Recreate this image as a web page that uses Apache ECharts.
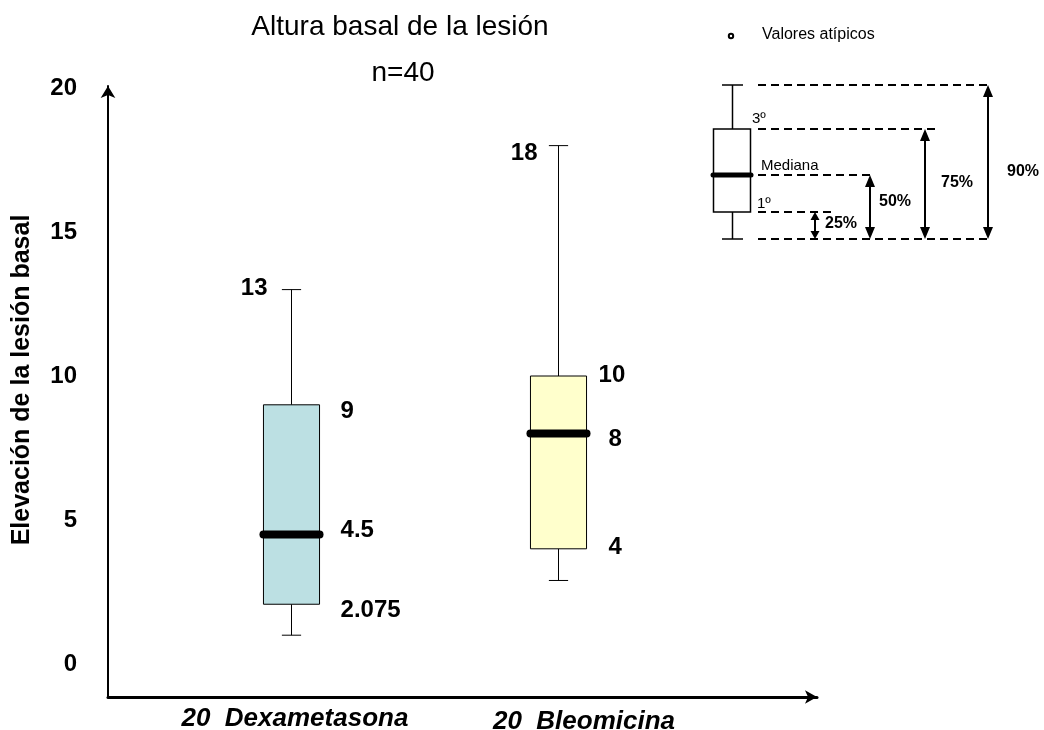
<!DOCTYPE html>
<html>
<head>
<meta charset="utf-8">
<title>Altura basal de la lesión</title>
<script src="https://cdn.jsdelivr.net/npm/echarts@6/dist/echarts.min.js"></script>
<style>
  html, body { margin: 0; padding: 0; background: #ffffff; }
  #chart { width: 1044px; height: 730px; }
</style>
</head>
<body>
<div id="chart"></div>
<script>
// Treatment groups and their five-number summaries
const categories = ['20  Dexametasona', '20  Bleomicina'];
const whiskerLow = [1, 2.9];
const q1 = [2.075, 4];
const medians = [4.5, 8];
const q3 = [9, 10];
const whiskerHigh = [13, 18];
const yTicks = [0, 5, 10, 15, 20];
const boxColors = ['#BCE0E3', '#FFFFCC'];

// Box geometry in x-axis units
const BOX_WIDTH = 0.21;
const CAP_WIDTH = 0.072;

// Label nudges [dx, dy] in px for the high, q3, median and q1 labels of each box
const labelNudge = [
  [[-24, -1], [21, 7], [21, -4], [21, 6]],
  [[-21, 8], [12, -1], [22, 6], [22, -1]]
];

const FONT = '"Liberation Sans", Arial, Helvetica, sans-serif';

const boxData = categories.map((c, i) => [i + 1, whiskerLow[i], q1[i], medians[i], q3[i], whiskerHigh[i]]);

function renderBox(params, api) {
  const i = params.dataIndex;
  const xv = api.value(0);
  const pLow = api.coord([xv, api.value(1)]);
  const pQ1 = api.coord([xv, api.value(2)]);
  const pMed = api.coord([xv, api.value(3)]);
  const pQ3 = api.coord([xv, api.value(4)]);
  const pHigh = api.coord([xv, api.value(5)]);
  const boxW = api.size([BOX_WIDTH, 0])[0];
  const capW = api.size([CAP_WIDTH, 0])[0];
  const cx = Math.round(pMed[0]) + 0.5;
  const left = cx - boxW / 2;
  const right = cx + boxW / 2;
  const thin = { stroke: '#000', lineWidth: 1 };
  const nudge = labelNudge[i];
  const txt = (str, x, y, align) => ({
    type: 'text',
    x: x, y: y,
    style: {
      text: str, fill: '#000', font: 'bold 24px ' + FONT,
      align: align, verticalAlign: 'middle'
    }
  });
  return {
    type: 'group',
    children: [
      { type: 'line', shape: { x1: cx, y1: pHigh[1], x2: cx, y2: pQ3[1] }, style: thin },
      { type: 'line', shape: { x1: cx, y1: pQ1[1], x2: cx, y2: pLow[1] }, style: thin },
      { type: 'line', shape: { x1: cx - capW / 2, y1: pHigh[1], x2: cx + capW / 2, y2: pHigh[1] }, style: thin },
      { type: 'line', shape: { x1: cx - capW / 2, y1: pLow[1], x2: cx + capW / 2, y2: pLow[1] }, style: thin },
      { type: 'rect', shape: { x: left, y: pQ3[1], width: boxW, height: pQ1[1] - pQ3[1] },
        style: { fill: boxColors[i], stroke: '#000', lineWidth: 1 } },
      { type: 'line', shape: { x1: left, y1: pMed[1], x2: right, y2: pMed[1] },
        style: { stroke: '#000', lineWidth: 8, lineCap: 'round' } },
      txt(String(api.value(5)), cx + nudge[0][0], pHigh[1] + nudge[0][1], 'right'),
      txt(String(api.value(4)), right + nudge[1][0], pQ3[1] + nudge[1][1], 'left'),
      txt(String(api.value(3)), right + nudge[2][0], pMed[1] + nudge[2][1], 'left'),
      txt(String(api.value(2)), right + nudge[3][0], pQ1[1] + nudge[3][1], 'left')
    ]
  };
}

// Key: a sample box with its quartile guides
function arrowHead(x, y, dir, w, h) {
  return { type: 'polygon', shape: { points: [[x, y], [x - w / 2, y + dir * h], [x + w / 2, y + dir * h]] },
           style: { fill: '#000' } };
}
function doubleArrow(x, yTop, yBottom, w, h) {
  return [
    { type: 'line', shape: { x1: x, y1: yTop + h - 1, x2: x, y2: yBottom - h + 1 }, style: { stroke: '#000', lineWidth: 2 } },
    arrowHead(x, yTop, 1, w, h),
    arrowHead(x, yBottom, -1, w, h)
  ];
}
function dashed(x1, x2, y) {
  return { type: 'line', shape: { x1: x1, y1: y, x2: x2, y2: y },
           style: { stroke: '#000', lineWidth: 2, lineDash: [8, 5] } };
}
function keyText(str, x, y, bold, size) {
  return { type: 'text', x: x, y: y,
           style: { text: str, fill: '#000', font: (bold ? 'bold ' : '') + size + 'px ' + FONT,
                    align: 'left', verticalAlign: 'middle' } };
}
const keyY = { top: 85, q3: 129, med: 175, q1: 212, bottom: 239 };
const keyElements = [
  { type: 'circle', shape: { cx: 731, cy: 36, r: 2.2 }, style: { fill: '#fff', stroke: '#000', lineWidth: 2 } },
  keyText('Valores atípicos', 762, 35, false, 16),
  { type: 'line', shape: { x1: 732.5, y1: keyY.top, x2: 732.5, y2: keyY.bottom }, style: { stroke: '#000', lineWidth: 1.5 } },
  { type: 'line', shape: { x1: 722, y1: keyY.top, x2: 743, y2: keyY.top }, style: { stroke: '#000', lineWidth: 1.5 } },
  { type: 'line', shape: { x1: 722, y1: keyY.bottom, x2: 743, y2: keyY.bottom }, style: { stroke: '#000', lineWidth: 1.5 } },
  { type: 'rect', shape: { x: 713.5, y: keyY.q3, width: 37, height: keyY.q1 - keyY.q3 }, style: { fill: '#fff', stroke: '#000', lineWidth: 1.5 } },
  { type: 'line', shape: { x1: 713, y1: keyY.med, x2: 751, y2: keyY.med }, style: { stroke: '#000', lineWidth: 5, lineCap: 'round' } },
  dashed(758, 990, keyY.top),
  dashed(758, 935, keyY.q3),
  dashed(758, 870, keyY.med),
  dashed(758, 833, keyY.q1),
  dashed(758, 990, keyY.bottom),
  ...doubleArrow(815, keyY.q1, keyY.bottom, 9, 8),
  ...doubleArrow(870, keyY.med, keyY.bottom, 10, 12),
  ...doubleArrow(925, keyY.q3, keyY.bottom, 10, 12),
  ...doubleArrow(988, keyY.top, keyY.bottom, 10, 12),
  keyText('3º', 752, 119, false, 15),
  keyText('Mediana', 761, 166, false, 15),
  keyText('1º', 757, 204, false, 15),
  keyText('25%', 825, 224, true, 16),
  keyText('50%', 879, 202, true, 16),
  keyText('75%', 941, 183, true, 16),
  keyText('90%', 1007, 172, true, 16)
];

const chart = echarts.init(document.getElementById('chart'), null, { renderer: 'canvas' });

chart.setOption({
  animation: false,
  backgroundColor: '#ffffff',
  textStyle: { fontFamily: FONT },
  title: [
    { text: 'Altura basal de la lesión', left: 395, top: 8, textAlign: 'center',
      textStyle: { fontFamily: FONT, fontSize: 28, fontWeight: 'normal', color: '#000' } },
    { text: 'n=40', left: 398, top: 54, textAlign: 'center',
      textStyle: { fontFamily: FONT, fontSize: 28, fontWeight: 'normal', color: '#000' } }
  ],
  grid: { left: 108, right: 227, top: 86, bottom: 33, containLabel: false, outerBoundsMode: 'none' },
  xAxis: {
    type: 'value',
    min: 0.315,
    max: 2.97,
    splitLine: { show: false },
    axisTick: { show: false },
    axisLine: { show: true, onZero: false, symbol: ['none', 'arrow'], symbolSize: [10, 12],
                lineStyle: { color: '#000', width: 3 } },
    axisLabel: {
      customValues: [1, 2],
      margin: 9,
      verticalAlign: 'top',
      formatter: (v) => (v === 1 ? '{a|' + categories[0] + '}' : '{b|' + categories[1] + '}'),
      rich: {
        a: { fontFamily: FONT, fontSize: 26, fontWeight: 'bold', fontStyle: 'italic', color: '#000', padding: [0, 0, 0, 8] },
        b: { fontFamily: FONT, fontSize: 26, fontWeight: 'bold', fontStyle: 'italic', color: '#000', padding: [3, 0, 0, 52] }
      }
    }
  },
  yAxis: {
    type: 'value',
    min: -1.146,
    max: 20.07,
    splitLine: { show: false },
    axisTick: { show: false },
    axisLine: { show: true, onZero: false, symbol: ['none', 'arrow'], symbolSize: [11, 12],
                lineStyle: { color: '#000', width: 2 } },
    axisLabel: {
      customValues: yTicks,
      margin: 31,
      fontFamily: FONT, fontSize: 24, fontWeight: 'bold', color: '#000'
    }
  },
  graphic: [
    { type: 'text', x: 22, y: 380, rotation: Math.PI / 2,
      style: { text: 'Elevación de la lesión basal', fill: '#000', font: 'bold 25px ' + FONT,
               align: 'center', verticalAlign: 'middle' } },
    ...keyElements
  ],
  series: [{
    type: 'custom',
    renderItem: renderBox,
    data: boxData,
    encode: { x: 0, y: [1, 2, 3, 4, 5] },
    clip: false
  }]
});
</script>
</body>
</html>
